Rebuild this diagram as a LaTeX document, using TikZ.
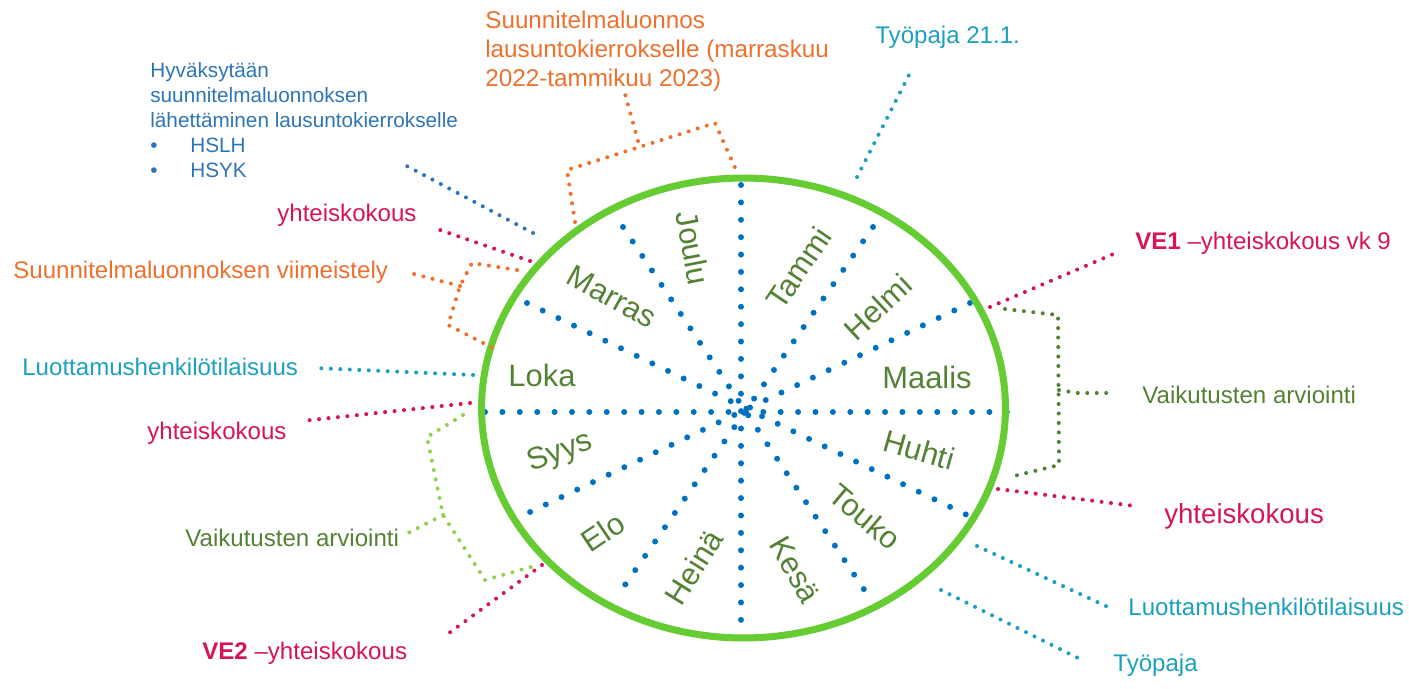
\documentclass[tikz,border=0pt]{standalone}
\usepackage{fontspec}
\setmainfont{Liberation Sans}
\usepackage{xcolor}
\definecolor{spokeblue}{RGB}{0,112,192}
\definecolor{noteblue}{RGB}{46,117,182}
\definecolor{planorange}{RGB}{237,112,45}
\definecolor{meetred}{RGB}{214,20,90}
\definecolor{workteal}{RGB}{28,160,190}
\definecolor{monthgreen}{RGB}{84,130,53}
\definecolor{ringgreen}{RGB}{102,204,51}
\definecolor{evalgreen}{RGB}{146,208,80}

\begin{document}
\begin{tikzpicture}[
        x=0.02cm, y=-0.02cm,
        month/.style={text=monthgreen, inner sep=0pt, font=\fontsize{17.6}{20}\selectfont},
        note/.style={anchor=west, inner sep=0pt, font=\fontsize{13.7}{16.4}\selectfont},
        spoke/.style={spokeblue, line width=3.4pt, line cap=round, dash pattern=on 0pt off 9.9pt},
        link/.style={line width=2.3pt, line cap=round, dash pattern=on 0pt off 5.4pt}
    ]
    \useasboundingbox (0,0) rectangle (1409,689);

    % spokes of the year wheel
    \draw[spoke] (741,185) -- (741,637);
    \draw[spoke] (485,412) -- (1008,412);
    \draw[spoke] (623,227) -- (873,603);
    \draw[spoke] (527,303) -- (967,515);
    \draw[spoke] (873,227) -- (618,595);
    \draw[spoke] (970,303) -- (530,512);

    % the wheel
    \draw[ringgreen, line width=4pt] (743.5,408) ellipse [x radius=5.24cm, y radius=4.6cm];

    % month nodes
    \node[month, rotate=-79] (joulu) at (693,248) {Joulu};
    \node[month, rotate=56] (tammi) at (799,268) {Tammi};
    \node[month, rotate=43] (helmi) at (878,307) {Helmi};
    \node[month] (maalis) at (927,377) {Maalis};
    \node[month, rotate=-16] (huhti) at (919,450) {Huhti};
    \node[month, rotate=-40] (touko) at (865,517) {Touko};
    \node[month, rotate=-60] (kesa) at (795,570) {Kesä};
    \node[month, rotate=58] (heina) at (694,567) {Heinä};
    \node[month, rotate=34] (elo) at (603,532) {Elo};
    \node[month, rotate=20] (syys) at (560,453) {Syys};
    \node[month] (loka) at (542,375) {Loka};
    \node[month, rotate=-29] (marras) at (612,297) {Marras};

    % left side notes
    \node[note, anchor=north west, align=left, text=noteblue,
          font=\fontsize{11.8}{14.2}\selectfont] (hyvaks) at (150,62)
        {Hyväksytään\\suunnitelmaluonnoksen\\lähettäminen lausuntokierrokselle\\
         \makebox[0.8cm][l]{•}HSLH\\\makebox[0.8cm][l]{•}HSYK};
    \node[note, text=meetred] (yht1) at (277,215) {yhteiskokous};
    \node[note, text=planorange] (viim) at (13,272) {Suunnitelmaluonnoksen viimeistely};
    \node[note, text=workteal] (luott1) at (22,367) {Luottamushenkilötilaisuus};
    \node[note, text=meetred] (yht2) at (147,433) {yhteiskokous};
    \node[note, text=monthgreen] (vaik1) at (185,538) {Vaikutusten arviointi};
    \node[note, text=meetred] (ve2) at (202,653) {\textbf{VE2} –yhteiskokous};

    % top and right side notes
    \node[note, anchor=north west, align=left, text=planorange,
          font=\fontsize{13.8}{16.4}\selectfont] (lausunto) at (485,11)
        {Suunnitelmaluonnos\\lausuntokierrokselle (marraskuu\\2022-tammikuu 2023)};
    \node[note, text=workteal] (tyo1) at (875,37) {Työpaja 21.1.};
    \node[note, text=meetred] (ve1) at (1135,243) {\textbf{VE1} –yhteiskokous vk 9};
    \node[note, text=monthgreen] (vaik2) at (1142,395) {Vaikutusten arviointi};
    \node[note, text=meetred, font=\fontsize{15.7}{18}\selectfont] (yht3) at (1164,516) {yhteiskokous};
    \node[note, text=workteal] (luott2) at (1128,607) {Luottamushenkilötilaisuus};
    \node[note, text=workteal] (tyo2) at (1113,665) {Työpaja};

    % connector ends
    \coordinate (hyvA) at (533,233);  \coordinate (hyvB) at (403,164);
    \coordinate (yht1A) at (530,261); \coordinate (yht1B) at (440,230);
    \coordinate (luo1A) at (473,375); \coordinate (luo1B) at (315,368);
    \coordinate (yht2A) at (470,403); \coordinate (yht2B) at (302,421);
    \coordinate (ve2A) at (542,565);  \coordinate (ve2B) at (445,636);
    \coordinate (tyo1A) at (857,177); \coordinate (tyo1B) at (910,73);
    \coordinate (ve1A) at (990,307);  \coordinate (ve1B) at (1118,252);
    \coordinate (yht3A) at (998,489); \coordinate (yht3B) at (1135,506);
    \coordinate (luo2A) at (977,546); \coordinate (luo2B) at (1108,607);
    \coordinate (tyo2A) at (941,590); \coordinate (tyo2B) at (1078,658);

    % connectors
    \draw[link, noteblue] (hyvA) -- (hyvB);
    \draw[link, meetred] (yht1A) -- (yht1B);
    \draw[link, workteal] (luo1A) -- (luo1B);
    \draw[link, meetred] (yht2A) -- (yht2B);
    \draw[link, meetred] (ve2A) -- (ve2B);
    \draw[link, workteal] (tyo1A) -- (tyo1B);
    \draw[link, meetred] (ve1A) -- (ve1B);
    \draw[link, meetred] (yht3A) -- (yht3B);
    \draw[link, workteal] (luo2A) -- (luo2B);
    \draw[link, workteal] (tyo2A) -- (tyo2B);

    % brackets
    \coordinate (lauL) at (575,222); \coordinate (lauR) at (737,172);
    \coordinate (lauM) at (638,141); \coordinate (lauT) at (625,94);
    \draw[link, planorange] (lauL) -- (567,170) -- (715,123) -- (lauR);
    \draw[link, planorange] (lauM) -- (lauT);

    \coordinate (viiU) at (517,270); \coordinate (viiD) at (493,348);
    \coordinate (viiM) at (460,286); \coordinate (viiT) at (410,273);
    \draw[link, planorange] (viiU) -- (472,263) -- (viiM) -- (448,325) -- (viiD);
    \draw[link, planorange] (viiM) -- (viiT);

    \coordinate (va1U) at (463,415); \coordinate (va1D) at (538,565);
    \coordinate (va1M) at (443,515); \coordinate (va1T) at (408,533);
    \draw[link, evalgreen] (va1U) -- (427,437) -- (va1M) -- (485,580) -- (va1D);
    \draw[link, evalgreen] (va1M) -- (va1T);

    \coordinate (va2U) at (1005,309); \coordinate (va2D) at (1010,477);
    \coordinate (va2M) at (1059,390); \coordinate (va2T) at (1108,393);
    \draw[link, monthgreen] (va2U) -- (1058,315) -- (1059,465) -- (va2D);
    \draw[link, monthgreen] (va2M) -- (1078,393) -- (va2T);
\end{tikzpicture}
\end{document}
